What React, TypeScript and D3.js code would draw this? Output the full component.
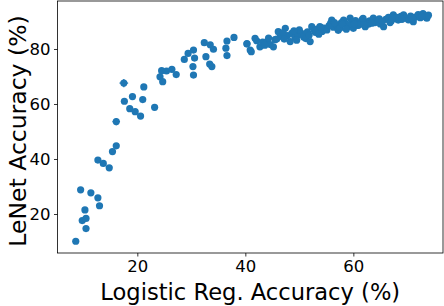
import React, { useRef, useEffect } from 'react';
import * as d3 from 'd3';

// logistic regression accuracy (x) vs LeNet accuracy (y), both in %
const logRegAcc = [
  8.6, 9.5, 10.3, 9.8, 10.5, 10.5, 11.4, 12.7, 13.0, 12.7, 13.7, 14.8, 15.4, 16.1,
  16.1, 17.5, 17.6, 18.6, 19.1, 19.6, 20.6, 21.0, 21.2, 23.2, 24.2, 24.7, 24.5, 25.4,
  26.4, 27.2, 28.7, 29.4, 30.4, 30.6, 30.3, 30.4, 32.4, 33.5, 34.1, 32.7, 33.4, 33.8,
  36.6, 37.9, 36.4, 36.6, 40.3, 40.9, 42.1,
  40.3, 41.1, 41.8, 42.7, 43.2, 44.0, 44.6, 45.2, 45.5, 46.1, 46.5, 47.4, 47.8, 48.3,
  48.6, 49.2, 49.8, 50.4, 50.8, 51.2, 51.5, 52.0, 52.3, 52.8, 53.3, 53.8, 54.2, 54.6,
  55.1, 55.5, 56.0, 56.3, 56.8, 57.2, 57.5, 58.2, 58.5, 58.9, 59.4, 59.7, 60.0, 60.4,
  60.8, 61.2, 61.6, 62.2, 62.5, 63.0, 63.7, 64.0, 64.5, 65.0, 65.6, 66.0, 66.5, 67.0,
  67.4, 67.8, 68.3, 68.8, 69.3, 69.7, 70.2, 70.6, 71.1, 71.5, 72.0, 72.4, 72.9, 73.6,
  73.9, 47.0, 50.0, 53.0, 55.8, 59.0, 62.8, 64.8, 68.0, 71.0, 44.3, 49.5, 57.8, 61.0,
  45.8, 49.0, 51.8, 54.0, 56.5, 58.0, 60.2, 61.8, 63.4, 65.3, 66.8, 69.0, 70.8, 72.7,
  53.6, 58.7, 62.0, 67.2, 43.6, 47.2,
];
const lenetAcc = [
  10.1, 28.8, 21.5, 17.6, 18.4, 14.7, 27.7, 25.9, 23.0, 39.6, 38.4, 36.8, 42.7, 44.8,
  53.6, 67.6, 61.0, 58.3, 62.7, 57.2, 55.6, 61.6, 66.2, 58.8, 69.9, 68.1, 72.1, 72.0,
  72.6, 70.7, 76.2, 78.4, 79.6, 76.7, 73.6, 70.5, 82.3, 81.5, 79.9, 77.2, 74.5, 73.6,
  82.9, 84.2, 80.3, 77.6, 81.8, 79.6, 83.0,
  82.0, 79.0, 83.9, 80.8, 82.5, 82.7, 81.6, 80.8, 83.4, 86.3, 84.6, 87.5, 84.9, 82.7,
  85.7, 84.3, 85.2, 85.7, 84.4, 83.8, 86.2, 82.7, 88.1, 86.5, 87.2, 88.1, 86.4, 87.6,
  86.9, 88.5, 90.5, 87.9, 88.8, 86.8, 87.5, 90.5, 89.2, 88.0, 91.2, 89.7, 87.5, 90.3,
  88.6, 89.3, 90.6, 88.1, 89.8, 90.2, 91.2, 89.6, 90.4, 89.1, 88.1, 90.8, 91.5, 90.2,
  92.4, 91.0, 90.5, 91.9, 92.4, 91.2, 90.6, 92.0, 89.9, 91.6, 92.5, 91.4, 92.9, 91.2,
  92.3, 86.0, 87.0, 86.0, 89.4, 88.8, 89.0, 91.0, 91.5, 91.0, 84.0, 83.2, 89.6, 88.7,
  83.6, 86.6, 85.0, 87.8, 89.6, 89.0, 89.1, 91.1, 89.4, 90.0, 89.6, 90.8, 91.4, 91.8,
  85.4, 87.2, 88.8, 90.9, 81.4, 83.6,
];
// only a few runs show error bars wider than the marker
const errIdx = [15, 14];
const errX = [0.8, 0.7];
const errY = [1.5, 1.3];

const xTicks = [20, 40, 60];
const yTicks = [20, 40, 60, 80];

const App: React.FC = () => {
  const width = 444;
  const height = 306;
  const margin = { top: 1, right: 1, bottom: 53, left: 57.5 };
  const svgRef = useRef<SVGSVGElement | null>(null);

  useEffect(() => {
    const svg = d3.select(svgRef.current);
    svg.selectAll("*").remove();
    const font = "DejaVu Sans, sans-serif";
    const color = "#1f77b4";

    const x = d3.scaleLinear().domain([5.22, 76.6]).range([margin.left, width - margin.right]);
    const y = d3.scaleLinear().domain([5.82, 97.45]).range([height - margin.bottom, margin.top]);

    const pts = logRegAcc.map((v, i) => ({ x: v, y: lenetAcc[i] }));

    // error bars
    const eb = svg.append("g").attr("stroke", color).attr("stroke-width", 1.3);
    errIdx.forEach((idx, k) => {
      const p = pts[idx];
      eb.append("line")
        .attr("x1", x(p.x - errX[k])).attr("x2", x(p.x + errX[k]))
        .attr("y1", y(p.y)).attr("y2", y(p.y));
      eb.append("line")
        .attr("x1", x(p.x)).attr("x2", x(p.x))
        .attr("y1", y(p.y - errY[k])).attr("y2", y(p.y + errY[k]));
    });

    svg.append("g")
      .selectAll("circle")
      .data(pts)
      .enter()
      .append("circle")
      .attr("cx", d => x(d.x))
      .attr("cy", d => y(d.y))
      .attr("r", 3.6)
      .attr("fill", color);

    // axes
    const xAxis = svg.append("g")
      .attr("transform", `translate(0,${height - margin.bottom})`)
      .call(d3.axisBottom(x).tickValues(xTicks).tickSize(3.5).tickPadding(3.5));
    const yAxis = svg.append("g")
      .attr("transform", `translate(${margin.left},0)`)
      .call(d3.axisLeft(y).tickValues(yTicks).tickSize(3.5).tickPadding(3.5));
    [xAxis, yAxis].forEach(a => {
      a.select(".domain").remove();
      a.selectAll("line").attr("stroke", "#000").attr("stroke-width", 0.8);
      a.selectAll("text").attr("font-family", font).attr("font-size", 16.5).attr("fill", "#000");
    });

    // frame
    svg.append("rect")
      .attr("x", margin.left)
      .attr("y", margin.top)
      .attr("width", width - margin.right - margin.left)
      .attr("height", height - margin.bottom - margin.top)
      .attr("fill", "none")
      .attr("stroke", "#000")
      .attr("stroke-width", 0.8);

    svg.append("text")
      .attr("x", (margin.left + width - margin.right) / 2)
      .attr("y", 300)
      .attr("text-anchor", "middle")
      .attr("font-family", font)
      .attr("font-size", 22.6)
      .text("Logistic Reg. Accuracy (%)");

    svg.append("text")
      .attr("transform", `translate(26,${(margin.top + height - margin.bottom) / 2 + 4}) rotate(-90)`)
      .attr("text-anchor", "middle")
      .attr("font-family", font)
      .attr("font-size", 23.5)
      .text("LeNet Accuracy (%)");
  }, []);

  return (
    <svg
      ref={svgRef}
      width={width}
      height={height}
      style={{ position: 'absolute', left: 0, top: 0, background: '#fff' }}
    />
  );
};

export default App;
